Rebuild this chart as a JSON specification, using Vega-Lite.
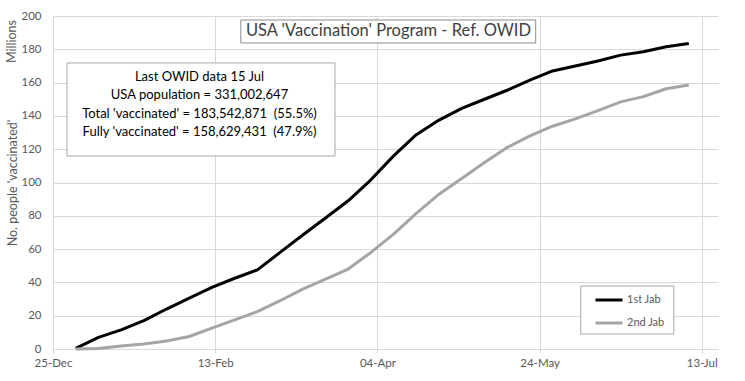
{
  "$schema": "https://vega.github.io/schema/vega-lite/v6.json",
  "width": 665,
  "height": 333,
  "autosize": {"type": "none"},
  "padding": {"left": 53, "top": 16, "right": 27, "bottom": 32},
  "background": "white",
  "config": {
    "view": {"stroke": null},
    "font": "Lato",
    "axis": {"labelFont": "Lato", "titleFont": "Lato"},
    "text": {"font": "Lato"}
  },
  "data": {
    "values": [
      {"date": "2021-01-01", "series": "1st Jab", "value": 0.4},
      {"date": "2021-01-08", "series": "1st Jab", "value": 7},
      {"date": "2021-01-15", "series": "1st Jab", "value": 11.5},
      {"date": "2021-01-22", "series": "1st Jab", "value": 17},
      {"date": "2021-01-29", "series": "1st Jab", "value": 24},
      {"date": "2021-02-05", "series": "1st Jab", "value": 30.5},
      {"date": "2021-02-12", "series": "1st Jab", "value": 37},
      {"date": "2021-02-19", "series": "1st Jab", "value": 42.5},
      {"date": "2021-02-26", "series": "1st Jab", "value": 47.5},
      {"date": "2021-03-05", "series": "1st Jab", "value": 58},
      {"date": "2021-03-12", "series": "1st Jab", "value": 68.5},
      {"date": "2021-03-19", "series": "1st Jab", "value": 78.7},
      {"date": "2021-03-26", "series": "1st Jab", "value": 89},
      {"date": "2021-04-02", "series": "1st Jab", "value": 101.6},
      {"date": "2021-04-09", "series": "1st Jab", "value": 116},
      {"date": "2021-04-16", "series": "1st Jab", "value": 128.7},
      {"date": "2021-04-23", "series": "1st Jab", "value": 137.5},
      {"date": "2021-04-30", "series": "1st Jab", "value": 144.5},
      {"date": "2021-05-07", "series": "1st Jab", "value": 150},
      {"date": "2021-05-14", "series": "1st Jab", "value": 155.4},
      {"date": "2021-05-21", "series": "1st Jab", "value": 161.5},
      {"date": "2021-05-28", "series": "1st Jab", "value": 167},
      {"date": "2021-06-04", "series": "1st Jab", "value": 170},
      {"date": "2021-06-11", "series": "1st Jab", "value": 173},
      {"date": "2021-06-18", "series": "1st Jab", "value": 176.5},
      {"date": "2021-06-25", "series": "1st Jab", "value": 178.5},
      {"date": "2021-07-02", "series": "1st Jab", "value": 181.5},
      {"date": "2021-07-09", "series": "1st Jab", "value": 183.5},
      {"date": "2021-01-01", "series": "2nd Jab", "value": 0},
      {"date": "2021-01-08", "series": "2nd Jab", "value": 0.3},
      {"date": "2021-01-15", "series": "2nd Jab", "value": 1.8},
      {"date": "2021-01-22", "series": "2nd Jab", "value": 3},
      {"date": "2021-01-29", "series": "2nd Jab", "value": 4.8},
      {"date": "2021-02-05", "series": "2nd Jab", "value": 7.5},
      {"date": "2021-02-12", "series": "2nd Jab", "value": 12.5},
      {"date": "2021-02-19", "series": "2nd Jab", "value": 17.5},
      {"date": "2021-02-26", "series": "2nd Jab", "value": 22.5},
      {"date": "2021-03-05", "series": "2nd Jab", "value": 29},
      {"date": "2021-03-12", "series": "2nd Jab", "value": 36},
      {"date": "2021-03-19", "series": "2nd Jab", "value": 42},
      {"date": "2021-03-26", "series": "2nd Jab", "value": 48},
      {"date": "2021-04-02", "series": "2nd Jab", "value": 58},
      {"date": "2021-04-09", "series": "2nd Jab", "value": 69},
      {"date": "2021-04-16", "series": "2nd Jab", "value": 81.5},
      {"date": "2021-04-23", "series": "2nd Jab", "value": 93},
      {"date": "2021-04-30", "series": "2nd Jab", "value": 102.4},
      {"date": "2021-05-07", "series": "2nd Jab", "value": 112},
      {"date": "2021-05-14", "series": "2nd Jab", "value": 121},
      {"date": "2021-05-21", "series": "2nd Jab", "value": 128},
      {"date": "2021-05-28", "series": "2nd Jab", "value": 133.8},
      {"date": "2021-06-04", "series": "2nd Jab", "value": 138.2},
      {"date": "2021-06-11", "series": "2nd Jab", "value": 143.2},
      {"date": "2021-06-18", "series": "2nd Jab", "value": 148.4},
      {"date": "2021-06-25", "series": "2nd Jab", "value": 151.6},
      {"date": "2021-07-02", "series": "2nd Jab", "value": 156.3},
      {"date": "2021-07-09", "series": "2nd Jab", "value": 158.6}
    ]
  },
  "layer": [
    {
      "data": {"values": [{}]},
      "mark": {"type": "rect", "fill": "white", "stroke": "#a6a6a6", "strokeWidth": 1},
      "encoding": {
        "x": {"datum": 1622910528000, "type": "temporal"},
        "x2": {"datum": 1625390208000},
        "y": {"datum": 37.8, "type": "quantitative"},
        "y2": {"datum": 9.0}
      }
    },
    {
      "mark": {"type": "line", "strokeWidth": 3, "strokeJoin": "round"},
      "encoding": {
        "x": {
          "field": "date",
          "type": "temporal",
          "scale": {"type": "utc", "domain": [1608854400000, 1626566400000], "nice": false},
          "axis": {
            "title": null,
            "values": [1608854400000, 1613174400000, 1617494400000, 1621814400000, 1626134400000],
            "tickCount": 20,
            "format": "%d-%b",
            "grid": true,
            "gridColor": "#d9d9d9",
            "domainColor": "#d9d9d9",
            "tickColor": "#d9d9d9",
            "tickSize": 4,
            "labelColor": "#595959",
            "labelFontSize": 11.5,
            "labelPadding": 4,
            "labelFlush": false
          }
        },
        "y": {
          "field": "value",
          "type": "quantitative",
          "scale": {"domain": [0, 200], "nice": false},
          "axis": {
            "title": "No. people 'vaccinated'",
            "titleColor": "#595959",
            "titleFontSize": 12.5,
            "titleFontWeight": "normal",
            "titlePadding": 1,
            "values": [0, 20, 40, 60, 80, 100, 120, 140, 160, 180, 200],
            "tickCount": 20,
            "labelOverlap": false,
            "grid": true,
            "gridColor": "#d9d9d9",
            "domain": false,
            "ticks": false,
            "labelColor": "#595959",
            "labelFontSize": 11.5,
            "labelPadding": 12
          }
        },
        "color": {
          "field": "series",
          "type": "nominal",
          "scale": {"domain": ["1st Jab", "2nd Jab"], "range": ["#000000", "#a5a5a5"]},
          "legend": {
            "title": null,
            "orient": "none",
            "legendX": 541,
            "legendY": 269,
            "symbolType": "stroke",
            "symbolSize": 729,
            "symbolStrokeWidth": 3,
            "strokeColor": null,
            "padding": 0,
            "rowPadding": 2,
            "labelFontSize": 11,
            "labelColor": "#595959",
            "labelOffset": 3
          }
        }
      }
    },
    {
      "data": {"values": [{}]},
      "mark": {"type": "rect", "fill": "white", "stroke": "#8c8c8c", "strokeWidth": 1},
      "encoding": {
        "x": {"datum": 1613856960000, "type": "temporal"},
        "x2": {"datum": 1621710720000},
        "y": {"datum": 197.6, "type": "quantitative"},
        "y2": {"datum": 183.8}
      }
    },
    {
      "data": {"values": [{}]},
      "mark": {"type": "text", "text": "USA 'Vaccination' Program - Ref. OWID", "fontSize": 16.5, "color": "#404040", "align": "center", "baseline": "middle"},
      "encoding": {
        "x": {"datum": 1617788160000, "type": "temporal"},
        "y": {"datum": 190.7, "type": "quantitative"}
      }
    },
    {
      "data": {"values": [{}]},
      "mark": {"type": "rect", "fill": "white", "stroke": "#a6a6a6", "strokeWidth": 1},
      "encoding": {
        "x": {"datum": 1609227648000, "type": "temporal"},
        "x2": {"datum": 1616365152000},
        "y": {"datum": 171.8, "type": "quantitative"},
        "y2": {"datum": 115.9}
      }
    },
    {
      "data": {"values": [{}]},
      "mark": {
        "type": "text",
        "text": ["Last OWID data 15 Jul", "USA population = 331,002,647", "Total 'vaccinated' = 183,542,871 \u00a0(55.5%)", "Fully 'vaccinated' = 158,629,431 \u00a0(47.9%)"],
        "fontSize": 13,
        "lineHeight": 18.4,
        "color": "#000000",
        "align": "center",
        "baseline": "middle"
      },
      "encoding": {
        "x": {"datum": 1612756224000, "type": "temporal"},
        "y": {"datum": 163.4, "type": "quantitative"}
      }
    },
    {
      "data": {"values": [{}]},
      "mark": {"type": "text", "text": "Millions", "fontSize": 12.5, "color": "#595959", "angle": 270, "align": "center", "baseline": "middle", "dx": 0, "dy": -41},
      "encoding": {
        "x": {"datum": 1608854400000, "type": "temporal"},
        "y": {"datum": 184.7, "type": "quantitative"}
      }
    }
  ]
}
